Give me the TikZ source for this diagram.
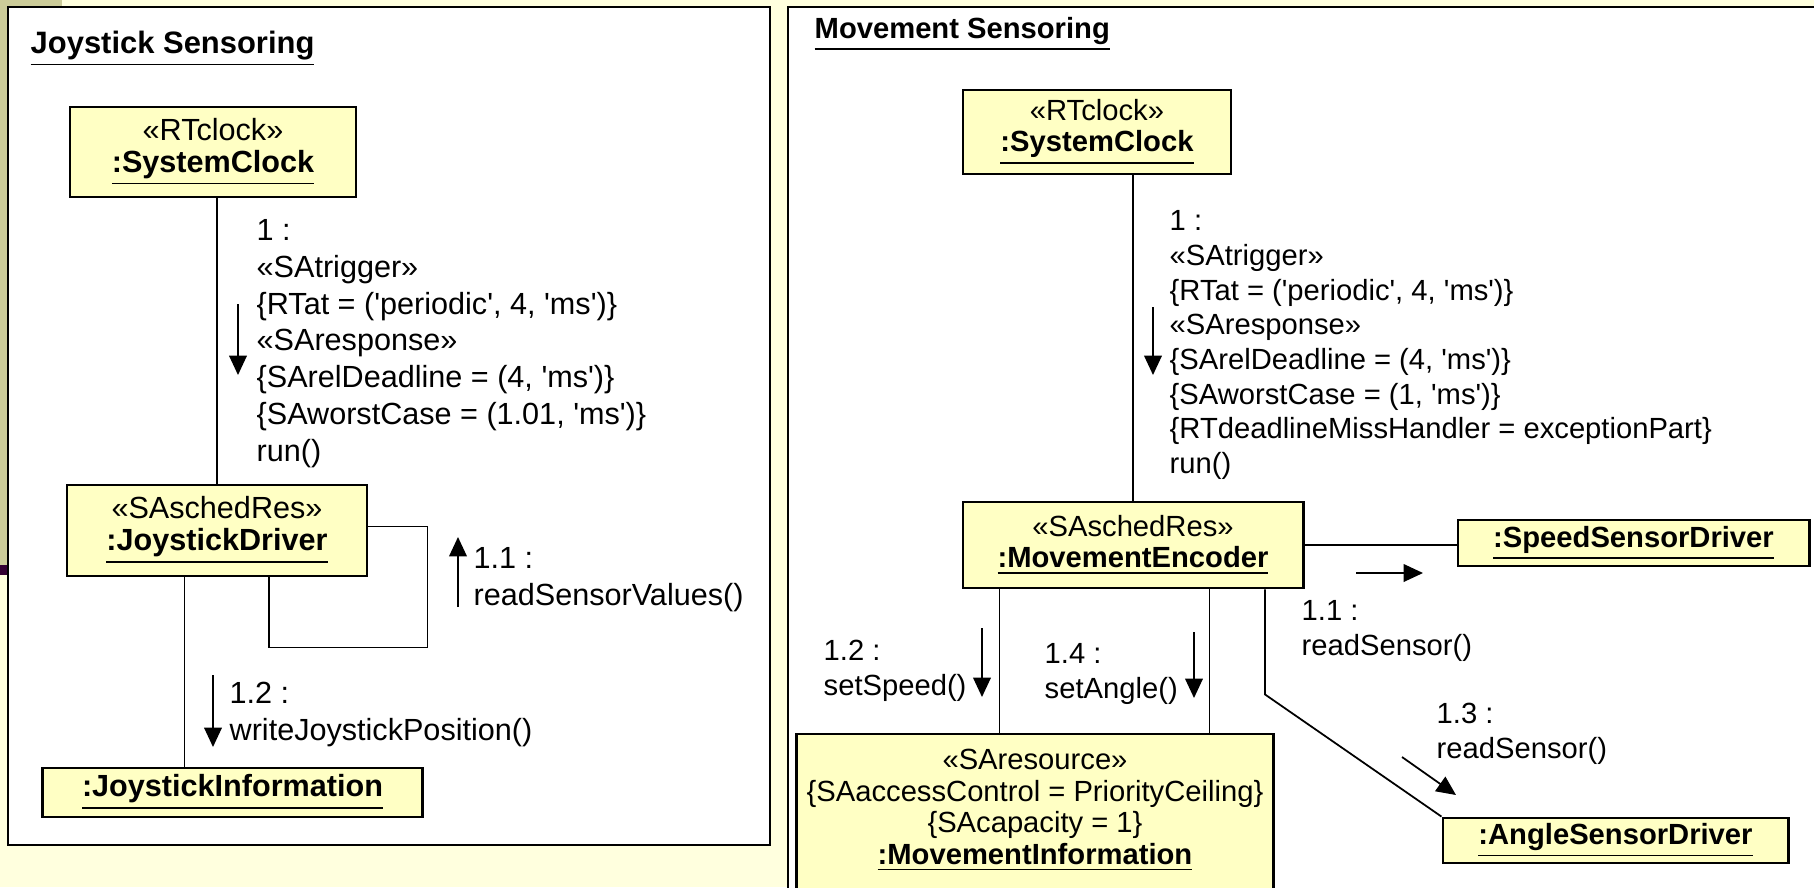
\documentclass[tikz,border=0pt]{standalone}
\usepackage{fontspec}
\setmainfont{Liberation Sans}[Ligatures=TeXOff]
\usetikzlibrary{arrows.meta, calc}
\definecolor{pagebg}{HTML}{FFFFDE}
\definecolor{barkhaki}{HTML}{CCCC99}
\definecolor{barplum}{HTML}{330033}
\definecolor{objfill}{HTML}{FFFFC4}
\newcommand\objname[1]{\underline{\textbf{#1}}}
\tikzset{
  obj/.style={draw, line width=0.8pt, fill=objfill, align=center, inner sep=0pt},
  objA/.style={obj, font=\fontsize{8.7}{9.1}\selectfont},
  objB/.style={obj, font=\fontsize{8.3}{9}\selectfont},
  lblA/.style={anchor=north west, inner sep=0pt, align=left, font=\fontsize{8.7}{10.45}\selectfont},
  lblB/.style={anchor=north west, inner sep=0pt, align=left, font=\fontsize{8.3}{9.87}\selectfont},
  link/.style={line width=0.5pt},
  msg/.style={line width=0.5pt, -{Triangle[length=5.5pt, width=5pt]}},
  panel/.style={draw, line width=0.7pt, fill=white}
}

\begin{document}
\begin{tikzpicture}[x=0.01cm, y=-0.01cm]
\useasboundingbox (0,0) rectangle (1814,887);
\fill[pagebg] (0,0) rectangle (1814,887);
\fill[barkhaki] (0,0) rectangle (62,6);
\fill[barkhaki] (0,0) rectangle (7,565);
\fill[barplum] (0,565) rectangle (7,575);

% joystick part
\draw[panel] (8,7) rectangle (770,845);
\node[anchor=base west, inner sep=0pt, font=\fontsize{8.8}{10}\selectfont] (titleA) at (30,53) {\objname{Joystick Sensoring}};

\node[objA, minimum width=2.86cm, minimum height=0.9cm] (clockA) at (213,152) {«RTclock»\\\objname{:SystemClock}};
\node[objA, minimum width=3cm, minimum height=0.91cm] (driverA) at (217,530.5) {«SAschedRes»\\\objname{:JoystickDriver}};
\node[objA, minimum width=3.79cm, minimum height=0.49cm] (infoA) at (232.5,792.5) {\objname{:JoystickInformation}};

\draw[link] (driverA.north |- clockA.south) -- (driverA.north);
\draw[link] ($(driverA.south west)+(119,0)$) coordinate (d1) -- (d1 |- infoA.north);
\draw[link] ($(driverA.east)+(0,-4)$) -- ++(59,0) |- ($(driverA.south)+(52,70)$) -- ($(driverA.south)+(52,0)$);

\node[lblA] (msg1A) at (256,214.3) {\strut 1 :\\«SAtrigger»\\\{RTat = ('periodic', 4, 'ms')\}\\«SAresponse»\\\{SArelDeadline = (4, 'ms')\}\\\{SAworstCase = (1.01, 'ms')\}\\run()};
\node[lblA] (msg11A) at (473,542.3) {\strut 1.1 :\\readSensorValues()};
\node[lblA] (msg12A) at (229,677.3) {\strut 1.2 :\\writeJoystickPosition()};
\draw[msg] (238,304) -- (238,375);
\draw[msg] (458,607) -- (458,537);
\draw[msg] (213,675) -- (213,747);

% movement part
\draw[panel] (788,7) rectangle (1830,905);
\node[anchor=base west, inner sep=0pt, font=\fontsize{8.3}{10}\selectfont] (titleB) at (814,38) {\objname{Movement Sensoring}};

\node[objB, minimum width=2.68cm, minimum height=0.84cm] (clockB) at (1097,132) {«RTclock»\\\objname{:SystemClock}};
\node[objB, minimum width=3.4cm, minimum height=0.86cm] (encoder) at (1133,545) {«SAschedRes»\\\objname{:MovementEncoder}};
\node[objB, minimum width=3.51cm, minimum height=0.46cm] (speed) at (1633.5,543) {\objname{:SpeedSensorDriver}};
\node[objB, minimum width=3.45cm, minimum height=0.45cm] (angle) at (1615.5,840.5) {\objname{:AngleSensorDriver}};
\node[objB, minimum width=4.76cm, minimum height=1.7cm] (infoB) at (1035,819) {«SAresource»\\\{SAaccessControl = PriorityCeiling\}\\\{SAcapacity = 1\}\\\objname{:MovementInformation}\rule[-7pt]{0pt}{0pt}};

\draw[link] (encoder.north |- clockB.south) -- (encoder.north);
\draw[link] (encoder.east) -- (encoder.east -| speed.west);
\draw[link] ($(encoder.south west)+(38,0)$) coordinate (e1) -- (e1 |- infoB.north);
\draw[link] ($(encoder.south west)+(248,0)$) coordinate (e2) -- (e2 |- infoB.north);
\draw[link] ($(encoder.south)+(132,0)$) -- ++(0,105) -- (angle.north west);

\node[lblB] (msg1B) at (1169,205.7) {\strut 1 :\\«SAtrigger»\\\{RTat = ('periodic', 4, 'ms')\}\\«SAresponse»\\\{SArelDeadline = (4, 'ms')\}\\\{SAworstCase = (1, 'ms')\}\\\{RTdeadlineMissHandler = exceptionPart\}\\run()};
\node[lblB] (msg11B) at (1301,595.7) {\strut 1.1 :\\readSensor()};
\node[lblB] (msg12B) at (823,635.7) {\strut 1.2 :\\setSpeed()};
\node[lblB] (msg14B) at (1044,638.7) {\strut 1.4 :\\setAngle()};
\node[lblB] (msg13B) at (1436,698.7) {\strut 1.3 :\\readSensor()};
\draw[msg] (1153,307) -- (1153,375);
\draw[msg] (1356,573) -- (1423,573);
\draw[msg] (982,628) -- (982,697);
\draw[msg] (1194,632) -- (1194,698);
\draw[msg] (1402,757) -- (1456,795);
\end{tikzpicture}
\end{document}
